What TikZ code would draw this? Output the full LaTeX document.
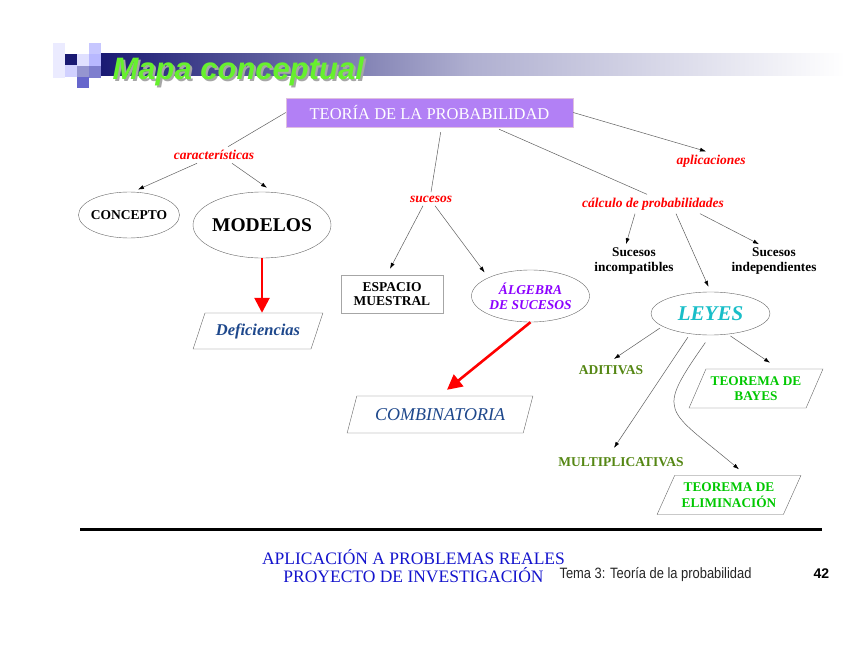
\documentclass[tikz,border=0pt]{standalone}
\usepackage{fontspec}
\setmainfont{Liberation Serif}
\setsansfont{Liberation Sans}
\newfontfamily\narrowsans[FakeStretch=0.86]{Liberation Sans}
\usepackage{xcolor}
\usetikzlibrary{shapes.geometric, arrows.meta}

\definecolor{boxpurple}{RGB}{178,128,245}
\definecolor{navy}{RGB}{25,25,115}
\definecolor{barmid}{RGB}{175,175,208}
\definecolor{titlegreen}{RGB}{102,240,45}
\definecolor{deepblue}{RGB}{30,72,140}
\definecolor{algpurple}{RGB}{140,0,255}
\definecolor{leycyan}{RGB}{25,190,200}
\definecolor{lawgreen}{RGB}{85,135,20}
\definecolor{thmgreen}{RGB}{0,200,0}
\definecolor{footblue}{RGB}{20,20,205}

\begin{document}
\begin{tikzpicture}[x=1pt, y=-1pt,
    link/.style={draw=gray!75!black, line width=0.5pt},
    arrow/.style={link, -{Latex[length=6pt,width=4pt,color=black]}},
    redarrow/.style={draw=red, line width=2.6pt, -{Triangle[length=15pt,width=15pt]}},
    oval/.style={draw=gray!80!black, ellipse, inner sep=0pt, align=center},
    slanted/.style={draw=gray!80!black, trapezium, trapezium left angle=58, trapezium right angle=122, trapezium stretches=true, inner sep=0pt, align=center},
    tag/.style={text=red, font=\fontsize{13.5}{15}\selectfont\bfseries\itshape},
    leaf/.style={align=center, font=\fontsize{13.3}{15}\selectfont\bfseries},
    law/.style={text=lawgreen, font=\fontsize{13.5}{15}\selectfont\bfseries},
    theorem/.style={slanted, text=thmgreen, font=\fontsize{13.3}{15.5}\selectfont\bfseries}
]
\fill[white] (0,0) rectangle (848,655);
\useasboundingbox (0,0) rectangle (848,655);

% header
\shade[left color=navy, right color=barmid] (100,54) rectangle (470,76);
\shade[left color=barmid, right color=white] (470,54) rectangle (845,76);
\fill[blue!8!white] (53,43) rectangle (65,78);
\fill[navy] (65,54) rectangle (77,65);
\fill[blue!12!white] (77,54) rectangle (89,66);
\fill[blue!22!white] (89,43) rectangle (101,54);
\fill[blue!28!white] (89,54) rectangle (101,66);
\fill[blue!18!white] (65,65) rectangle (77,77);
\fill[blue!38!gray!60!white] (77,66) rectangle (89,77);
\fill[blue!45!gray!70!white] (89,66) rectangle (101,78);
\fill[blue!50!gray!80!white] (77,77) rectangle (89,88);
\node[anchor=base west, text=titlegreen, font=\sffamily\bfseries\itshape\fontsize{31}{31}\selectfont] (title) at (109,80)
  {\rlap{\kern2pt\raisebox{-2pt}{\color{gray!70}Mapa conceptual}}Mapa conceptual};

% main concept
\node[draw=violet!25, fill=boxpurple, text=white, minimum width=287, minimum height=29, font=\fontsize{16.5}{18}\selectfont] (teoria) at (429.5,112.5) {TEORÍA DE LA PROBABILIDAD};

% left branch
\node[tag] (caract) at (214,155) {características};
\node[oval, inner xsep=-4pt, minimum width=101, minimum height=46, font=\fontsize{13.5}{15}\selectfont\bfseries] (concepto) at (129,215) {CONCEPTO};
\node[oval, inner xsep=-2pt, minimum width=138, minimum height=66, font=\fontsize{19.5}{21}\selectfont\bfseries] (modelos) at (262,225) {MODELOS};
\node[slanted, minimum width=130, minimum height=36, text=deepblue, font=\fontsize{16.5}{18}\selectfont\bfseries\itshape] (defic) at (258,331) {Deficiencias};

% middle branch
\node[tag] (sucesos) at (431,199) {sucesos};
\node[draw=gray!70, minimum width=102, minimum height=38, inner sep=0pt, leaf, font=\fontsize{13.5}{14.5}\selectfont\bfseries] (espacio) at (392,294) {ESPACIO\\MUESTRAL};
\node[oval, minimum width=118, minimum height=52, text=algpurple, font=\fontsize{13.5}{15}\selectfont\bfseries\itshape] (algebra) at (530.5,296) {ÁLGEBRA\\DE SUCESOS};
\node[slanted, minimum width=186, minimum height=37, text=deepblue, font=\fontsize{18}{20}\selectfont\itshape] (combin) at (440,414.5) {COMBINATORIA};

% right branch
\node[tag] (aplic) at (711,161) {aplicaciones};
\node[tag] (calculo) at (653,204) {cálculo de probabilidades};
\node[leaf] (incomp) at (634,261) {Sucesos\\incompatibles};
\node[leaf] (indep) at (774,261) {Sucesos\\independientes};
\node[oval, minimum width=119, minimum height=43, text=leycyan, font=\fontsize{21}{23}\selectfont\bfseries\itshape] (leyes) at (710.5,313.5) {LEYES};
\node[law] (aditivas) at (611,370) {ADITIVAS};
\node[law] (multi) at (621,462) {MULTIPLICATIVAS};
\node[theorem, minimum width=134, minimum height=39] (bayes) at (756,388.5) {TEOREMA DE\\BAYES};
\node[theorem, minimum width=144, minimum height=39] (elimin) at (729,495) {TEOREMA DE\\ELIMINACIÓN};

% connectors
\draw[link] (teoria.west) -- (caract);
\draw[arrow] ([xshift=-17pt]caract.south) -- ([xshift=-4pt,yshift=3pt]concepto.60);
\draw[arrow] ([xshift=18pt]caract.south) -- ([xshift=5pt,yshift=4pt]modelos.north);
\draw[link, shorten <=5pt] ([xshift=12pt]teoria.south) -- (sucesos.north);
\draw[arrow] ([xshift=-8pt]sucesos.south) -- ([xshift=-2pt,yshift=6pt]espacio.north);
\draw[arrow] ([xshift=4pt]sucesos.south) -- ([xshift=-4pt,yshift=5pt]algebra.north west);
\draw[link, shorten <=5pt] ([xshift=65pt]teoria.south) -- ([xshift=-6pt]calculo.north);
\draw[arrow] (teoria.east) -- ([xshift=-5pt]aplic.north);
\draw[arrow] ([xshift=-18pt]calculo.south) -- ([xshift=-8pt]incomp.north);
\draw[arrow] ([xshift=23pt]calculo.south) -- ([xshift=-2pt,yshift=5pt]leyes.north);
\draw[arrow] ([xshift=47pt]calculo.south) -- ([xshift=-15pt]indep.north);
\draw[redarrow] (modelos.south) -- (modelos.south |- defic.north);
\draw[redarrow] (algebra.south) -- ([xshift=7pt,yshift=6pt]combin.north);
\draw[arrow, shorten <=3pt] (leyes.195) -- ([xshift=3pt,yshift=3pt]aditivas.north);
\draw[arrow, shorten <=4pt] (leyes.225) -- ([xshift=-7pt,yshift=6pt]multi.north);
\draw[arrow, shorten <=9pt] (leyes.south) to[out=235, in=140, looseness=1.8] ([xshift=10pt,yshift=6pt]elimin.north);
\draw[arrow, shorten <=3pt] (leyes.310) -- ([xshift=14pt,yshift=6pt]bayes.north);

% footer
\draw[line width=3pt] (80,529) -- (822,529);
\node[text=footblue, align=center, font=\fontsize{17.5}{18}\selectfont] (proyecto) at (413.5,566) {APLICACIÓN A PROBLEMAS REALES\\PROYECTO DE INVESTIGACIÓN};
\node[anchor=base west, text=black!85, font=\narrowsans\fontsize{15}{17}\selectfont] (tema) at (556,578) {Tema 3: Teoría de la probabilidad};
\node[anchor=base west, font=\sffamily\bfseries\fontsize{14}{16}\selectfont] (pagina) at (810,578) {42};
\end{tikzpicture}
\end{document}
